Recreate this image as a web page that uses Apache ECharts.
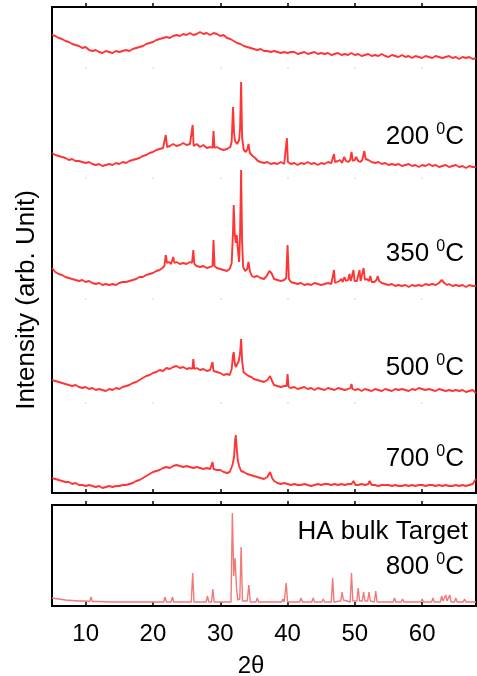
<!DOCTYPE html>
<html><head><meta charset="utf-8">
<script src="https://cdn.jsdelivr.net/npm/echarts@6/dist/echarts.min.js"></script>
<style>html,body{margin:0;padding:0;background:#fff}#c{width:477px;height:676px}</style>
</head><body><div id="c"></div>
<script>
// x tick labels (2θ)
const xTicks = [10, 20, 30, 40, 50, 60];
const sampleLabels = ['', '200', '350', '500', '700'];
const bulkLabelTop = 'HA bulk Target';
const bulkLabelTemp = '800';
const xLabel = '2θ';
const yLabel = 'Intensity (arb. Unit)';

// as-deposited (top trace)
const asDep = [[5,458],[5.5,457],[6,455],[6.5,454],[7,452],[7.5,451],[8,449],[8.5,448],[9,447],[9.5,445],[10,446],[10.5,443],[11,442],[11.5,443],[12,441],[12.5,440],[13,442],[13.5,441],[14,440],[14.5,442],[15,441],[15.5,442],[16,443],[16.5,442],[17,444],[17.5,445],[18,446],[18.5,447],[19,449],[19.5,450],[20,451],[20.5,453],[21,454],[21.5,455],[22,456],[22.5,455],[23,457],[23.5,458],[24,457],[24.5,459],[25,458],[25.5,460],[26,458],[26.5,459],[27,461],[27.5,459],[28,460],[28.5,458],[29,460],[29.5,459],[30,457],[30.5,458],[31,455],[31.5,454],[32,452],[32.5,450],[33,449],[33.5,447],[34,446],[34.5,445],[35,444],[35.5,443],[36,444],[36.5,442],[37,442],[37.5,441],[38,442],[38.5,441],[39,440],[39.5,441],[40,440],[40.5,441],[41,441],[41.5,439],[42,440],[42.5,441],[43,439],[43.5,440],[44,441],[44.5,439],[45,440],[45.5,439],[46,440],[46.5,438],[47,439],[47.5,440],[48,438],[48.5,439],[49,438],[49.5,440],[50,438],[50.5,439],[51,437],[51.5,438],[52,439],[52.5,437],[53,438],[53.5,437],[54,439],[54.5,437],[55,436],[55.5,438],[56,437],[56.5,436],[57,438],[57.5,436],[58,437],[58.5,435],[59,437],[59.5,436],[60,435],[60.5,437],[61,436],[61.5,435],[62,437],[62.5,436],[63,435],[63.5,436],[64,437],[64.5,435],[65,436],[65.5,434],[66,436],[66.5,435],[67,436],[67.5,434],[68,435]];

// 200 °C
const t200 = [[5,340],[5.5,338],[6,337],[6.5,336],[7,335],[7.5,333],[8,334],[8.5,332],[9,332],[9.5,331],[10,330],[10.5,331],[11,329],[11.5,328],[12,329],[12.5,327],[13,328],[13.5,329],[14,328],[14.5,330],[15,329],[15.5,331],[16,330],[16.5,332],[17,333],[17.5,334],[18,335],[18.5,337],[19,338],[19.5,340],[20,341],[20.5,343],[21,344],[21.5,345],[21.7,346],[21.9,358],[22.1,346],[22.5,347],[23,349],[23.5,347],[24,348],[24.5,350],[25,348],[25.5,349],[25.75,348],[25.9,368],[26.05,347],[26.5,349],[27,346],[27.5,348],[28,345],[28.5,346],[28.85,345],[29.0,362],[29.15,345],[29.5,346],[30,344],[30.5,343],[31,344],[31.5,346],[31.7,352],[31.9,386],[32.05,360],[32.2,352],[32.5,349],[32.8,353],[32.95,365],[33.1,411],[33.25,355],[33.5,343],[33.8,341],[34.05,344],[34.2,349],[34.4,340],[34.8,337],[35.2,335],[35.6,332],[36,331],[36.5,330],[37,331],[37.5,329],[38,330],[38.5,329],[39,331],[39.5,329],[39.75,330],[39.9,355],[40.05,331],[40.5,329],[41,330],[41.5,328],[42,330],[42.5,329],[43,331],[43.5,329],[44,330],[44.5,328],[45,330],[45.5,329],[46,331],[46.5,330],[46.75,331],[46.9,339],[47.05,331],[47.5,332],[47.8,333],[48.1,330],[48.4,336],[48.7,332],[49,331],[49.3,333],[49.5,341],[49.7,332],[50.0,333],[50.2,336],[50.5,332],[50.8,331],[51.1,333],[51.4,342],[51.6,334],[52.0,333],[52.2,335],[52.5,331],[53,330],[53.5,331],[54,329],[54.5,330],[55,328],[55.5,329],[56,328],[56.5,329],[57,327],[57.5,328],[58,329],[58.5,327],[59,328],[59.5,326],[60,328],[60.5,327],[61,329],[61.5,327],[62,328],[62.5,326],[63,327],[63.5,328],[64,326],[64.5,327],[65,328],[65.5,326],[66,327],[66.5,325],[67,327],[67.5,326],[68,326]];

// 350 °C
const t350 = [[5,225],[5.5,221],[6,219],[6.5,218],[7,216],[7.5,215],[8,214],[8.5,213],[9,212],[9.5,213],[10,211],[10.5,212],[11,210],[11.5,209],[12,210],[12.5,208],[13,209],[13.5,208],[14,209],[14.5,208],[15,210],[15.5,211],[16,211],[16.5,212],[17,213],[17.5,214],[18,216],[18.5,216],[19,218],[19.5,219],[20,220],[20.5,222],[21,223],[21.4,225],[21.7,227],[21.9,238],[22.1,230],[22.4,231],[22.7,229],[23.0,236],[23.2,230],[23.5,231],[24,229],[24.5,230],[25,229],[25.5,231],[25.8,230],[26.0,243],[26.15,229],[26.5,227],[27,226],[27.5,227],[28,225],[28.5,226],[28.85,227],[29.0,253],[29.15,227],[29.5,225],[30,224],[30.5,223],[31,222],[31.4,224],[31.7,230],[31.9,262],[32.0,288],[32.15,260],[32.3,250],[32.45,258],[32.6,245],[32.8,231],[32.95,260],[33.1,323],[33.25,250],[33.4,226],[33.7,222],[34.0,224],[34.2,231],[34.4,222],[34.7,217],[35,216],[35.5,217],[36,215],[36.5,214],[36.9,217],[37.3,222],[37.6,220],[38,214],[38.5,213],[39,212],[39.5,213],[39.8,215],[40.0,248],[40.2,214],[40.5,211],[41,210],[41.5,209],[42,210],[42.5,208],[43,209],[43.5,208],[44,210],[44.5,209],[45,208],[45.5,209],[46,210],[46.5,209],[46.75,210],[46.9,223],[47.05,210],[47.4,211],[47.7,212],[48.0,214],[48.2,211],[48.45,216],[48.7,212],[49.0,213],[49.2,219],[49.4,212],[49.65,213],[49.8,223],[49.95,212],[50.3,212],[50.55,214],[50.7,223],[50.85,212],[51.1,213],[51.3,225],[51.5,213],[51.8,214],[52.1,212],[52.3,217],[52.5,211],[52.9,211],[53.2,213],[53.4,217],[53.6,212],[54,210],[54.5,209],[55,208],[55.5,209],[56,207],[56.5,208],[57,207],[57.5,208],[58,206],[58.5,208],[59,207],[59.5,208],[60,207],[60.5,209],[61,208],[61.5,209],[62,208],[62.5,210],[62.9,213],[63.3,210],[63.7,208],[64,209],[64.5,207],[65,208],[65.5,207],[66,208],[66.5,206],[67,208],[67.5,207],[68,207]];

// 500 °C
const t500 = [[5,113],[5.5,112],[6,111],[6.5,110],[7,109],[7.5,108],[8,107],[8.5,108],[9,106],[9.5,105],[10,106],[10.5,104],[11,105],[11.5,103],[12,104],[12.5,103],[13,102],[13.5,104],[14,103],[14.5,105],[15,104],[15.5,106],[16,107],[16.5,108],[17,110],[17.5,111],[18,113],[18.5,115],[19,117],[19.5,118],[20,120],[20.5,121],[21,123],[21.5,122],[22,125],[22.5,124],[23,126],[23.5,127],[24,125],[24.5,126],[25,124],[25.5,125],[25.85,124],[26.0,134],[26.15,124],[26.5,125],[27,123],[27.5,124],[28,122],[28.5,123],[28.7,124],[28.85,131],[29.0,122],[29.5,121],[30,120],[30.5,118],[31,119],[31.4,118],[31.7,124],[31.9,138],[32.0,141],[32.15,130],[32.3,126],[32.5,128],[32.75,132],[32.95,140],[33.1,154],[33.25,132],[33.45,121],[33.8,119],[34.2,117],[34.6,116],[35,114],[35.5,113],[36,112],[36.5,111],[37.0,113],[37.4,117],[37.7,112],[38.0,108],[38.5,107],[39,106],[39.5,107],[39.85,107],[40.0,119],[40.15,106],[40.5,105],[41,106],[41.5,104],[42,105],[42.5,106],[43,104],[43.5,105],[44,103],[44.5,105],[45,104],[45.5,103],[46,105],[46.5,104],[47,103],[47.5,105],[48,104],[48.5,103],[49,104],[49.35,105],[49.5,109],[49.65,104],[50,103],[50.5,104],[51,102],[51.5,104],[52,103],[52.5,102],[53,104],[53.5,103],[54,102],[54.5,104],[55,103],[55.5,102],[56,104],[56.5,103],[57,104],[57.5,103],[58,102],[58.5,104],[59,103],[59.5,105],[60,104],[60.5,103],[61,104],[61.5,103],[62,102],[62.5,104],[63,103],[63.5,102],[64,103],[64.5,102],[65,103],[65.5,102],[66,103],[66.5,101],[67,102],[67.5,103],[68,100]];

// 700 °C
const t700 = [[5,15],[5.5,14],[6,13],[6.5,12],[7,11],[7.5,11],[8,9],[8.5,10],[9,8],[9.5,8],[10,7],[10.5,8],[11,7],[11.5,6],[12,7],[12.5,5],[13,6],[13.5,7],[14,6],[14.5,7],[15,7],[15.5,8],[16,8],[16.5,9],[17,10],[17.5,12],[18,13],[18.5,15],[19,17],[19.5,19],[20,21],[20.5,22],[21,23],[21.5,25],[22,26],[22.5,25],[23,27],[23.5,28],[24,27],[24.5,26],[25,27],[25.5,26],[26,25],[26.5,26],[27,25],[27.5,24],[28,25],[28.5,24],[28.7,25],[28.85,31],[29.0,24],[29.5,23],[30,23],[30.5,21],[31,20],[31.4,21],[31.7,26],[31.85,29],[32.05,36],[32.2,52],[32.3,58],[32.45,45],[32.6,33],[32.8,27],[33.1,22],[33.5,21],[34,19],[34.5,18],[35,17],[35.5,16],[36,15],[36.5,14],[37.0,16],[37.4,21],[37.7,15],[38,12],[38.5,10],[39,9],[39.5,10],[40,9],[40.5,8],[41,9],[41.5,8],[42,8],[42.5,9],[43,8],[43.5,7],[44,8],[44.5,9],[45,8],[45.5,9],[46,9],[46.5,8],[47,9],[47.5,8],[48,9],[48.5,8],[49,9],[49.5,9],[49.8,12],[50.1,8],[50.5,8],[51,9],[51.5,8],[52,9],[52.2,12],[52.5,8],[53,8],[53.5,7],[54,8],[54.5,8],[55,8],[55.5,7],[56,8],[56.5,7],[57,7],[57.5,8],[58,7],[58.5,8],[59,7],[59.5,8],[60,8],[60.5,7],[61,8],[61.5,8],[62,7],[62.5,8],[63,7],[63.5,8],[64,7],[64.5,7],[65,8],[65.5,7],[66,8],[66.5,7],[67,8],[67.5,9],[68,14]];

// HA bulk target, 800 °C
const bulk = [[5,8],[6,7],[7,6],[8,5.5],[9,5],[10,5],[10.6,4.5],[10.8,9],[11.0,4.5],[12,4.5],[14,4],[16.7,4],[16.9,6],[17.1,4],[19,4],[21.6,4],[21.8,9],[22.0,4],[22.7,4],[22.9,9],[23.1,4],[25.7,4],[25.9,33],[26.1,4],[27.9,4],[28.1,10],[28.3,4],[28.7,4],[28.9,17],[29.1,4],[31.6,4],[31.8,93],[32.0,30],[32.2,48],[32.4,20],[32.6,6],[32.9,7],[33.1,59],[33.3,5],[34.0,5],[34.25,21],[34.45,4],[35.3,4],[35.5,8],[35.7,4],[39.1,4],[39.3,7],[39.5,4],[39.6,4],[39.8,23],[40.0,4],[41.8,4],[42.0,8],[42.2,4],[43.6,4],[43.8,8],[44.0,4],[45.1,4],[45.3,7],[45.5,4],[46.5,4],[46.7,28],[46.9,4],[47.9,5],[48.1,14],[48.3,6],[49.3,4],[49.5,33],[49.7,5],[50.3,5],[50.5,18],[50.7,5],[51.1,5],[51.3,14],[51.5,5],[51.9,5],[52.1,14],[52.3,5],[52.9,4],[53.1,15],[53.3,4],[55.7,4],[55.9,8],[56.1,4],[56.9,4],[57.1,7],[57.3,4],[59.8,4],[60.0,7],[60.2,4],[61.4,4],[61.6,8],[61.8,4],[62.7,4],[62.9,10],[63.1,5],[63.3,5],[63.5,11],[63.7,5],[63.9,5],[64.1,11],[64.3,4],[64.8,4],[65.0,8],[65.2,4],[66.1,4],[66.3,7],[66.5,4],[68,4]];

const FONT = '"Liberation Sans", Arial, sans-serif';
const chart = echarts.init(document.getElementById('c'), null, {renderer: 'canvas'});

function tickAxis(grid, inside, showLabel, color, len) {
  return {
    type: 'value', gridIndex: grid, min: 5, max: 68,
    axisLine: {show: false},
    splitLine: {show: false},
    axisTick: {show: true, inside: inside, length: len, customValues: xTicks,
               lineStyle: {color: color, width: 1.5}},
    axisLabel: {show: showLabel, customValues: xTicks, fontSize: 24, color: '#000',
                fontFamily: FONT, margin: 16}
  };
}

const topSeries = [asDep, t200, t350, t500, t700];
const series = topSeries.map(d => ({
  type: 'line', xAxisIndex: 0, yAxisIndex: 0, data: d, showSymbol: false,
  lineStyle: {color: '#ff2424', width: 1.9, opacity: 0.92}, silent: true, animation: false
}));
series.push({
  type: 'line', xAxisIndex: 2, yAxisIndex: 1, data: bulk, showSymbol: false,
  lineStyle: {color: '#f37878', width: 1.4}, silent: true, animation: false
});

const faintRows = [66, 176, 297, 401];
const grids = [
  {left: 52, top: 7, width: 424, height: 486, show: true, borderColor: '#000', borderWidth: 2, backgroundColor: 'transparent'},
  {left: 52, top: 505, width: 424, height: 101, show: true, borderColor: '#000', borderWidth: 2, backgroundColor: 'transparent'}
];
faintRows.forEach(r => grids.push({left: 52, top: r, width: 424, height: 1, show: false}));

const xAxes = [
  tickAxis(0, true, false, '#000', 4),
  tickAxis(0, false, false, '#000', 4),
  tickAxis(1, true, true, '#000', 4),
  tickAxis(1, false, false, '#000', 4)
];
faintRows.forEach((r, i) => xAxes.push(tickAxis(2 + i, false, false, '#e4e4e4', 2)));

const yAxes = [
  {type: 'value', gridIndex: 0, min: 0, max: 486, show: false},
  {type: 'value', gridIndex: 1, min: 0, max: 101, show: false}
];
faintRows.forEach((r, i) => yAxes.push({type: 'value', gridIndex: 2 + i, min: 0, max: 1, show: false}));

const rich = {
  a: {fontSize: 26, fontFamily: FONT, color: '#000', lineHeight: 30},
  s: {fontSize: 16, fontFamily: FONT, color: '#000', lineHeight: 20, verticalAlign: 'top'}
};
function tempText(t, y) {
  return {type: 'text', x: 464, y: y, style: {text: '{a|' + t + ' }{s|0}{a|C}', rich: rich,
          align: 'right', verticalAlign: 'middle', fill: '#000'}};
}
const labelY = [0, 137, 254, 368, 459];
const graphics = [];
for (let i = 1; i < sampleLabels.length; i++) graphics.push(tempText(sampleLabels[i], labelY[i]));
graphics.push(tempText(bulkLabelTemp, 567));
graphics.push({type: 'text', x: 468, y: 532, style: {text: bulkLabelTop, font: '26px ' + FONT,
               align: 'right', verticalAlign: 'middle', fill: '#000'}});
graphics.push({type: 'text', x: 251, y: 666, style: {text: xLabel, font: '24px ' + FONT,
               align: 'center', verticalAlign: 'middle', fill: '#000'}});
graphics.push({type: 'text', x: 27, y: 300, rotation: Math.PI / 2, style: {text: yLabel, font: '26px ' + FONT,
               align: 'center', verticalAlign: 'middle', fill: '#000'}});

chart.setOption({
  animation: false,
  backgroundColor: '#fff',
  grid: grids, xAxis: xAxes, yAxis: yAxes, series: series, graphic: graphics
});
</script></body></html>
